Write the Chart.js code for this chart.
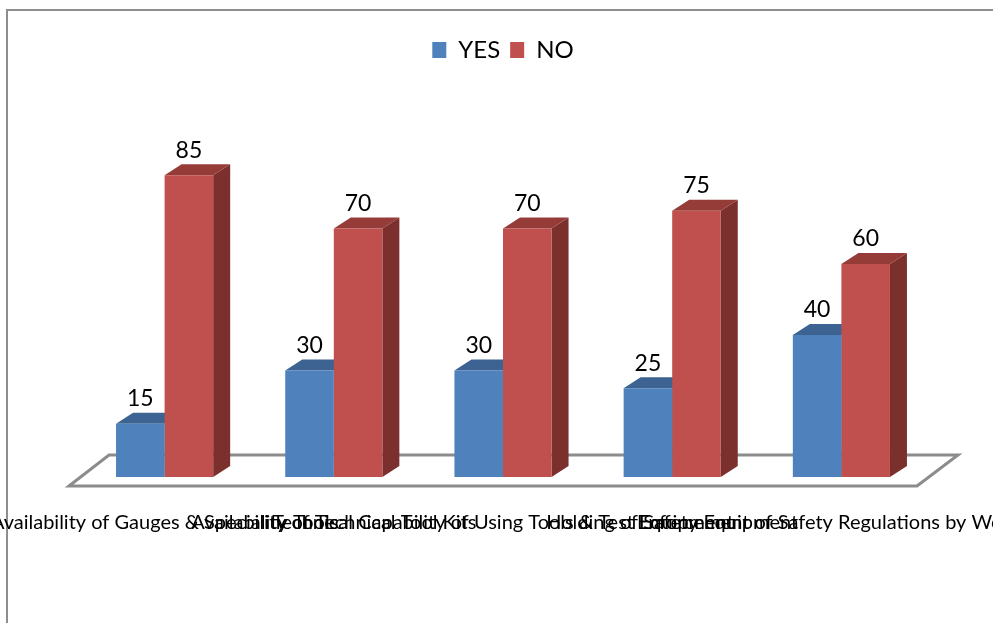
<!DOCTYPE html>
<html>
<head>
<meta charset="utf-8">
<script src="https://cdn.jsdelivr.net/npm/chart.js@4"></script>
<style>
  html, body { margin: 0; padding: 0; background: #fff; }
  #wrap { position: relative; width: 993px; height: 623px; overflow: hidden; }
  #frame { position: absolute; left: 6px; top: 9px; width: 1200px; height: 900px;
           border-left: 2px solid #8e8e8e; border-top: 2px solid #8e8e8e; }
  canvas { position: absolute; left: 0; top: 0; }
</style>
</head>
<body>
<div id="wrap">
  <div id="frame"></div>
  <canvas id="chart" width="993" height="623"></canvas>
</div>
<script>
// Survey items and responses (%)
const categories = [
  "Availability of Gauges & Speciality Tools",
  "Availability of Technical Tool Kits",
  "Technical Capability of Using Tools & Test Equipment",
  "Holding of Safety Equipment",
  "Enforcement of Safety Regulations by Workers"
];
const yesValues = [15, 30, 30, 25, 40];
const noValues = [85, 70, 70, 75, 60];
const seriesNames = ["YES", "NO"];

const FONT = "Lato, 'Open Sans', sans-serif";
const DEPTH_X = 17, DEPTH_Y = -11;

// Extruded column faces and the floor plate behind the bars
const columns3d = {
  id: "columns3d",
  beforeInit(chart) {
    const fit = chart.legend.fit;
    chart.legend.fit = function () {
      fit.call(this);
      this.height += 50;
    };
  },
  beforeDatasetsDraw(chart) {
    const ctx = chart.ctx;
    const a = chart.chartArea;
    const y0 = chart.scales.y.getPixelForValue(0);
    ctx.save();
    // floor
    ctx.beginPath();
    ctx.moveTo(a.left - 11, y0 + 9);
    ctx.lineTo(a.left + 29, y0 - 22);
    ctx.lineTo(a.right + 32, y0 - 22);
    ctx.lineTo(a.right - 9, y0 + 9);
    ctx.closePath();
    ctx.fillStyle = "#ffffff";
    ctx.fill();
    ctx.lineWidth = 3;
    ctx.strokeStyle = "#8c8c8c";
    ctx.stroke();
    // side and top faces
    chart.data.datasets.forEach((ds, i) => {
      chart.getDatasetMeta(i).data.forEach(bar => {
        const p = bar.getProps(["x", "y", "width", "base"], true);
        const l = p.x - p.width / 2, r = p.x + p.width / 2;
        ctx.fillStyle = ds.sideColor;
        ctx.beginPath();
        ctx.moveTo(r, p.y);
        ctx.lineTo(r + DEPTH_X, p.y + DEPTH_Y);
        ctx.lineTo(r + DEPTH_X, p.base + DEPTH_Y);
        ctx.lineTo(r, p.base);
        ctx.closePath();
        ctx.fill();
        ctx.fillStyle = ds.topColor;
        ctx.beginPath();
        ctx.moveTo(l, p.y);
        ctx.lineTo(l + DEPTH_X, p.y + DEPTH_Y);
        ctx.lineTo(r + DEPTH_X, p.y + DEPTH_Y);
        ctx.lineTo(r, p.y);
        ctx.closePath();
        ctx.fill();
      });
    });
    ctx.restore();
  },
  afterDatasetsDraw(chart) {
    const ctx = chart.ctx;
    ctx.save();
    ctx.font = "23px " + FONT;
    ctx.fillStyle = "#000";
    ctx.textAlign = "center";
    ctx.textBaseline = "middle";
    chart.data.datasets.forEach((ds, i) => {
      chart.getDatasetMeta(i).data.forEach((bar, j) => {
        ctx.fillText(String(ds.data[j]), bar.x, bar.y - 25);
      });
    });
    ctx.restore();
  }
};

new Chart(document.getElementById("chart"), {
  type: "bar",
  data: {
    labels: categories,
    datasets: [
      { label: seriesNames[0], data: yesValues, backgroundColor: "#4f81bd",
        topColor: "#3c6392", sideColor: "#385d8a" },
      { label: seriesNames[1], data: noValues, backgroundColor: "#c0504d",
        topColor: "#953b38", sideColor: "#7c302e" }
    ]
  },
  options: {
    responsive: false,
    animation: false,
    devicePixelRatio: 1,
    layout: { autoPadding: false, padding: { left: 80, right: 67, top: 28, bottom: 54 } },
    datasets: { bar: { categoryPercentage: 0.574, barPercentage: 1.0 } },
    plugins: {
      legend: {
        position: "top",
        labels: { boxWidth: 14, boxHeight: 16, padding: 10, color: "#000",
                  font: { family: FONT, size: 24 } }
      },
      tooltip: { enabled: false }
    },
    scales: {
      x: {
        grid: { display: false, drawTicks: false },
        border: { display: false },
        ticks: { autoSkip: false, maxRotation: 0, minRotation: 0, padding: 34,
                 color: "#000", font: { family: FONT, size: 20 } },
        afterFit(scale) { scale.paddingLeft = 0; scale.paddingRight = 0; }
      },
      y: { display: false, min: 0, max: 100 }
    }
  },
  plugins: [columns3d]
});
</script>
</body>
</html>
